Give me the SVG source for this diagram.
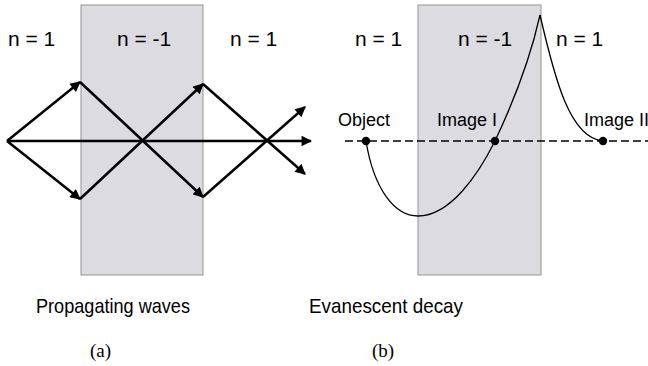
<svg xmlns="http://www.w3.org/2000/svg" width="648" height="366" viewBox="0 0 648 366">
<style>
.slab{fill:#dcdbe0;stroke:#a3a3a3;stroke-width:1.2}
.lbl{font-family:"Liberation Sans",Arial,sans-serif;font-size:21px;fill:#000}
.sm{font-family:"Liberation Sans",Arial,sans-serif;font-size:18px;fill:#000}
.cap{font-family:"Liberation Serif","Times New Roman",serif;font-size:19px;fill:#000}
.ray{stroke:#000;stroke-width:2.5;fill:none;marker-end:url(#ah)}
.curve{stroke:#000;stroke-width:1.3;fill:none}
.dash{stroke:#000;stroke-width:1.5;stroke-dasharray:8 4;fill:none}
</style>
<defs>
<marker id="ah" viewBox="0 0 10 10" refX="9" refY="5" markerWidth="4.6" markerHeight="4.2" orient="auto" markerUnits="strokeWidth">
<path d="M0,0 L10,5 L0,10 Z" fill="#000"/>
</marker>
</defs>
<g id="panel-a">
<rect id="slab-a" class="slab" x="81" y="5" width="122" height="270"/>
<text class="lbl" x="8" y="46">n = 1</text>
<text class="lbl" x="117" y="46">n = -1</text>
<text class="lbl" x="230" y="46">n = 1</text>
<g id="rays-a">
<line class="ray" x1="7" y1="141" x2="80" y2="82"/>
<line class="ray" x1="7" y1="141" x2="80" y2="199"/>
<line class="ray" x1="7" y1="141" x2="311" y2="141"/>
<line class="ray" x1="80" y1="82" x2="203" y2="197"/>
<line class="ray" x1="80" y1="199" x2="203" y2="84"/>
<line class="ray" x1="203" y1="84" x2="305" y2="174"/>
<line class="ray" x1="203" y1="197" x2="305" y2="107"/>
</g>
<text class="lbl" x="36" y="313" textLength="154" lengthAdjust="spacingAndGlyphs">Propagating waves</text>
<text class="cap" x="90" y="357">(a)</text>
</g>
<g id="panel-b">
<rect id="slab-b" class="slab" x="418" y="5" width="123" height="270"/>
<text class="lbl" x="355" y="46">n = 1</text>
<text class="lbl" x="458" y="46">n = -1</text>
<text class="lbl" x="556" y="46">n = 1</text>
<line class="dash" x1="345" y1="141" x2="648" y2="141"/>
<path class="curve" d="M366,141 C374,190 395,216 418,216 C450,216 478,175 495,141 C512,105 530,60 540,15"/>
<path class="curve" d="M540,15 C555,80 570,138 603,141"/>
<g id="object"><circle cx="366" cy="141" r="4.2"/><text class="sm" x="338" y="126">Object</text></g>
<g id="image-1"><circle cx="495" cy="141" r="4.2"/><text class="sm" x="437" y="126">Image I</text></g>
<g id="image-2"><circle cx="603" cy="141" r="4.2"/><text class="sm" x="584" y="126">Image II</text></g>
<text class="lbl" x="309" y="313" textLength="154" lengthAdjust="spacingAndGlyphs">Evanescent decay</text>
<text class="cap" x="372" y="357">(b)</text>
</g>
</svg>
